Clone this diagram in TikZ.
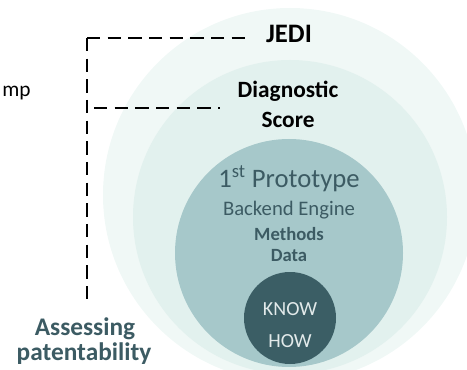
\documentclass[tikz,border=0pt]{standalone}
\usepackage{fontspec}
\setmainfont{Carlito}
\usepackage{tikz}

\definecolor{ringOuter}{RGB}{240,248,246}
\definecolor{ringMid}{RGB}{226,241,238}
\definecolor{protoFill}{RGB}{166,200,202}
\definecolor{knowFill}{RGB}{59,94,101}
\definecolor{tealText}{RGB}{60,91,99}
\definecolor{knowText}{RGB}{226,234,234}

\begin{document}
\begin{tikzpicture}[x=0.75pt,y=0.75pt,yscale=-1,xscale=1,
    dashline/.style={line width=1.5pt,dash pattern=on 10pt off 5.5pt},
    label/.style={anchor=base,inner sep=0pt}]
\useasboundingbox (0,0) rectangle (467,370);
\clip (0,0) rectangle (467,370);
%Shape: Circle [outer ring]
\fill [ringOuter] (290,195) circle (187);
%Shape: Circle [middle ring]
\fill [ringMid] (290,217) circle (157);
%Shape: Circle [prototype]
\fill [protoFill] (289,253) circle (114);
%Shape: Circle [know how]
\fill [knowFill] (290,318) circle (46);

%Text
\node [label,font=\fontsize{16}{19}\selectfont,anchor=base west] (mp) at (2,97) {mp};
\node [label,font=\bfseries\fontsize{20}{24}\selectfont] (jedi) at (289,43) {JEDI};
\node [label,font=\bfseries\fontsize{17.5}{21}\selectfont] (diag) at (288,98) {Diagnostic};
\node [label,font=\bfseries\fontsize{17.5}{21}\selectfont] (score) at (288,128) {Score};
\node [label,font=\fontsize{20}{24}\selectfont,text=tealText] (proto) at (289,188) {1\textsuperscript{st} Prototype};
\node [label,font=\fontsize{15.5}{19}\selectfont,text=tealText] (backend) at (289,215) {Backend Engine};
\node [label,font=\bfseries\fontsize{14}{17}\selectfont,text=tealText] (methods) at (289,240) {Methods};
\node [label,font=\bfseries\fontsize{14}{17}\selectfont,text=tealText] (data) at (289,262) {Data};
\node [label,font=\fontsize{15}{18}\selectfont,text=knowText] (know) at (290,315) {KNOW};
\node [label,font=\fontsize{15}{18}\selectfont,text=knowText] (how) at (290,347) {HOW};
\node [label,font=\bfseries\fontsize{19}{22}\selectfont,text=tealText] (assess) at (85,335) {Assessing};
\node [label,font=\bfseries\fontsize{19}{22}\selectfont,text=tealText] (patent) at (84,360) {patentability};

%Straight Lines
\coordinate (corner) at (87,38);
\coordinate (jediEnd) at (250,38);
\coordinate (stemEnd) at (87,303);
\coordinate (diagStart) at (94,108);
\coordinate (diagEnd) at (220,108);
\draw [dashline] (corner) -- (jediEnd);
\draw [dashline] (corner) -- (stemEnd);
\draw [dashline] (diagStart) -- (diagEnd);
\end{tikzpicture}
\end{document}
